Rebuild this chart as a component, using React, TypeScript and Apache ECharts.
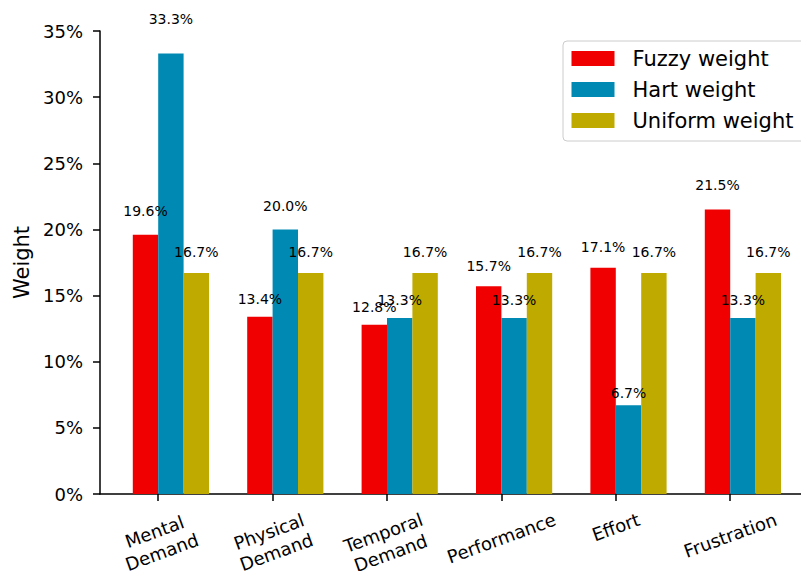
import React, { useEffect, useRef } from "react";
import * as echarts from "echarts";

const categories = ["Mental\nDemand", "Physical\nDemand", "Temporal\nDemand", "Performance", "Effort", "Frustration"];
const fuzzyWeight = [19.6, 13.4, 12.8, 15.7, 17.1, 21.5];
const hartWeight = [33.3, 20.0, 13.3, 13.3, 6.7, 13.3];
const uniformWeight = [16.7, 16.7, 16.7, 16.7, 16.7, 16.7];
const padSeries = [0, 0, 0, 0, 0, 0];
const seriesNames = ["Fuzzy weight", "Hart weight", "Uniform weight"];
const seriesColors = ["#F00000", "#0089B3", "#BFAA00"];
const yMin = 0;
const yMax = 35;
const yStep = 5;

const FONT = "DejaVu Sans";
const ROT = 20;
const TICK_FS = 18;
const LINE_H = 21.6;
const BIG_FS = 21;

function measure(text: string, size: number): number {
  const c = document.createElement("canvas").getContext("2d");
  if (!c) return text.length * size * 0.6;
  c.font = `${size}px "${FONT}"`;
  return c.measureText(text).width;
}

export default function App() {
  const ref = useRef<HTMLDivElement>(null);
  useEffect(() => {
    document.body.style.margin = "0";
    if (!ref.current) return;
    const chart = echarts.init(ref.current, null, { renderer: "svg" });
    const mkBar = (name: string, vals: number[], color: string) => ({
      type: "bar",
      name,
      xAxisIndex: 0,
      yAxisIndex: 0,
      barWidth: 25.4,
      barGap: "0%",
      itemStyle: { color },
      label: {
        show: true,
        position: "top",
        fontFamily: FONT,
        fontSize: 14,
        lineHeight: 14,
        color: "#000",
        formatter: (p: any) => `${Number(p.value).toFixed(1)}%`,
      },
      data: vals.map((v) => ({ value: v, label: { distance: 0.83 * v } })),
    });
    chart.setOption({
      animation: false,
      backgroundColor: "#fff",
      textStyle: { fontFamily: FONT },
      grid: [
        { left: 101, top: 31, height: 463, width: 686.4, containLabel: false, outerBoundsMode: "none" },
        { left: 100, top: 31, height: 463, right: 0, containLabel: false, outerBoundsMode: "none" },
      ],
      legend: {
        data: seriesNames,
        orient: "vertical",
        left: 563,
        top: 41,
        padding: [7, 14, 10, 8.5],
        itemWidth: 43,
        itemHeight: 15,
        itemGap: 10,
        icon: "rect",
        borderColor: "#cccccc",
        borderWidth: 1,
        borderRadius: 4,
        backgroundColor: "rgba(255,255,255,0.8)",
        textStyle: { fontFamily: FONT, fontSize: BIG_FS, color: "#000", lineHeight: 21, padding: [0, 0, 0, 13] },
      },
      xAxis: [
        {
          type: "category",
          gridIndex: 0,
          data: categories,
          boundaryGap: true,
          axisLine: { show: false },
          axisTick: { show: true, alignWithLabel: true, length: 7, inside: false, lineStyle: { color: "#000", width: 1.5 } },
          axisLabel: { show: false, interval: 0 },
          splitLine: { show: false },
        },
        {
          type: "value",
          gridIndex: 1,
          min: 0,
          max: 1,
          axisLine: { show: true, onZero: false, lineStyle: { color: "#000", width: 1.5 } },
          axisTick: { show: false },
          axisLabel: { show: false },
          splitLine: { show: false },
        },
      ],
      yAxis: [
        {
          type: "value",
          gridIndex: 0,
          offset: 1,
          min: yMin,
          max: yMax,
          interval: yStep,
          name: "Weight",
          nameLocation: "middle",
          nameGap: 64,
          nameTextStyle: { fontFamily: FONT, fontSize: BIG_FS, color: "#000" },
          axisLine: { show: true, lineStyle: { color: "#000", width: 1.5 } },
          axisTick: { show: true, length: 7, inside: false, lineStyle: { color: "#000", width: 1.5 } },
          axisLabel: { fontFamily: FONT, fontSize: TICK_FS, color: "#000", margin: 17, formatter: "{value}%" },
          splitLine: { show: false },
        },
        {
          type: "value",
          gridIndex: 1,
          show: false,
          min: 0,
          max: 1,
        },
      ],
      series: [
        {
          type: "bar",
          name: "_pad",
          xAxisIndex: 0,
          yAxisIndex: 0,
          barWidth: 25.4,
          barGap: "0%",
          silent: true,
          itemStyle: { color: "rgba(0,0,0,0)" },
          label: { show: false },
          data: padSeries,
        },
        mkBar(seriesNames[0], fuzzyWeight, seriesColors[0]),
        mkBar(seriesNames[1], hartWeight, seriesColors[1]),
        mkBar(seriesNames[2], uniformWeight, seriesColors[2]),
      ],
    });

    // rotated category labels, placed at the axis ticks via the library's scale
    const rad = (ROT * Math.PI) / 180;
    const axisY = chart.convertToPixel({ yAxisIndex: 0 } as any, 0) as unknown as number;
    const gap = 14.5;
    const labels = categories.map((c, i) => {
      const x = chart.convertToPixel({ xAxisIndex: 0 } as any, i) as unknown as number;
      const lines = c.split("\n");
      const w = Math.max(...lines.map((l) => measure(l, TICK_FS)));
      const h = lines.length * LINE_H;
      const depth = (w * Math.sin(rad) + h * Math.cos(rad)) / 2;
      return {
        type: "text",
        x,
        y: axisY + gap + depth,
        rotation: rad,
        silent: true,
        style: {
          text: c,
          fontFamily: FONT,
          fontSize: TICK_FS,
          lineHeight: LINE_H,
          fill: "#000",
          align: "center",
          verticalAlign: "middle",
          textAlign: "center",
          textVerticalAlign: "middle",
        },
      };
    });
    chart.setOption({ graphic: labels });
    return () => chart.dispose();
  }, []);
  return <div ref={ref} style={{ width: 801, height: 571 }} />;
}
